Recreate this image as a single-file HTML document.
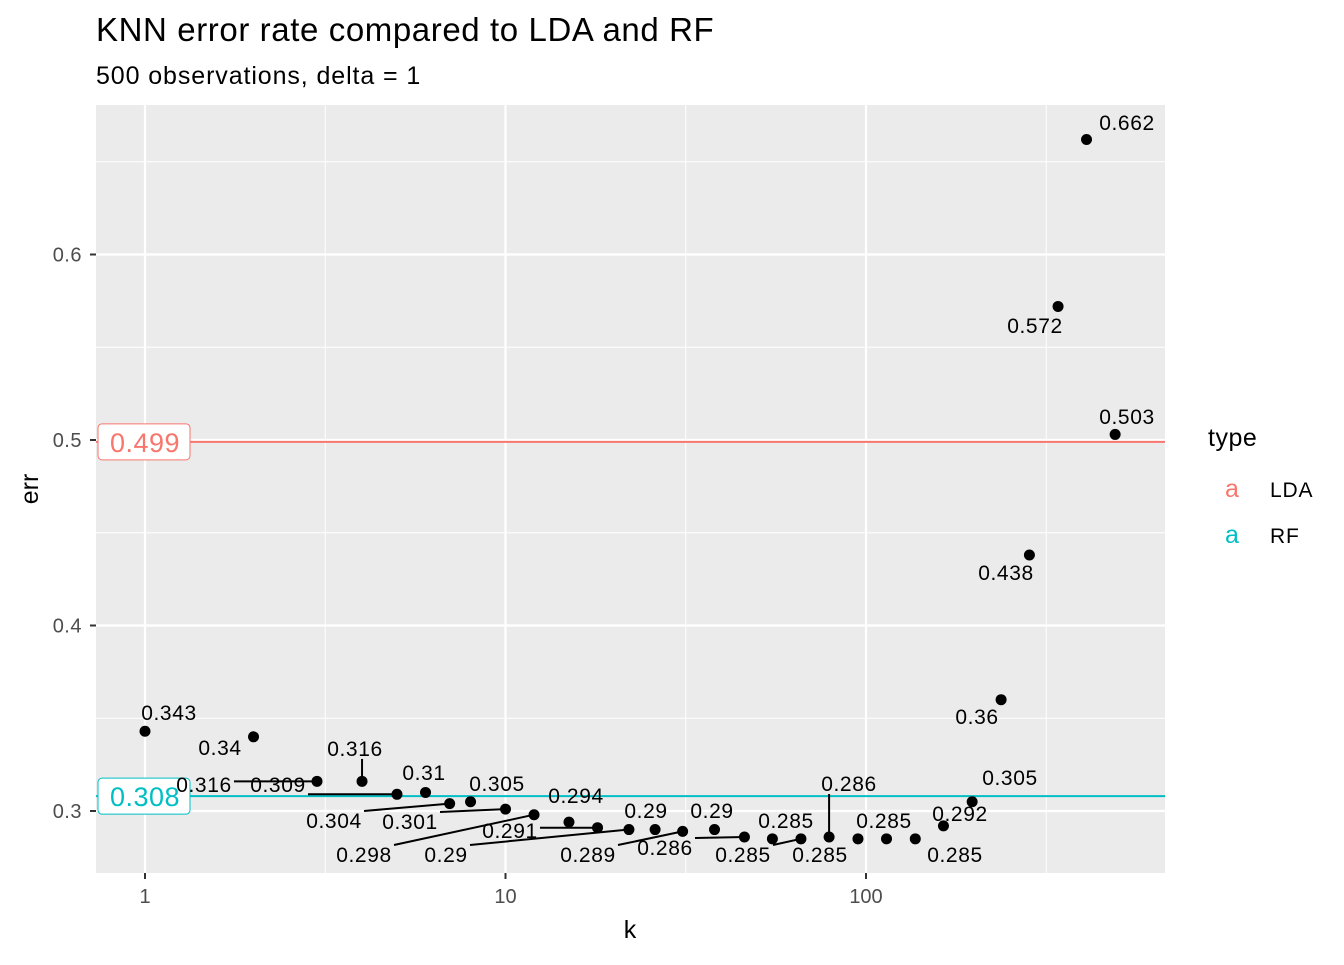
<!DOCTYPE html>
<html><head><meta charset="utf-8"><style>
body{margin:0;background:#fff;}
svg text{font-family:"Liberation Sans",sans-serif;}
</style></head><body>
<svg id="chart" width="1344" height="960">
<text x="96" y="41" font-size="33" letter-spacing="0.6">KNN error rate compared to LDA and RF</text>
<text x="96" y="84" font-size="25" letter-spacing="0.9">500 observations, delta = 1</text>
<rect x="96" y="105" width="1069" height="768" fill="#ebebeb"/>
<g id="grid"></g><g id="hlines"></g><g id="segs"></g><g id="pts"></g><g id="labels"></g><g id="axes"></g>
<text x="630" y="938" font-size="25" text-anchor="middle">k</text>
<text transform="translate(38,489) rotate(-90)" font-size="25" text-anchor="middle">err</text>
<g>
<text x="1208" y="446" font-size="25" letter-spacing="0.5">type</text>
<text x="1232" y="497" font-size="25" fill="#F8766D" text-anchor="middle">a</text>
<text x="1270" y="497" font-size="21" letter-spacing="0.8">LDA</text>
<text x="1232" y="543" font-size="25" fill="#00BFC4" text-anchor="middle">a</text>
<text x="1270" y="543" font-size="21" letter-spacing="0.8">RF</text>
</g>
</svg>
<script>
const kValues=[1,2,3,4,5,6,7,8,10,12,15,18,22,26,31,38,46,55,66,79,95,114,137,164,197,237,284,341,409,491];
const errValues=[0.343,0.34,0.316,0.316,0.309,0.31,0.304,0.305,0.301,0.298,0.294,0.291,0.29,0.29,0.289,0.29,0.286,0.285,0.285,0.286,0.285,0.285,0.285,0.292,0.305,0.36,0.438,0.572,0.662,0.503];
const refTypes=["LDA","RF"];
const refValues=[0.499,0.308];
const refColors=["#F8766D","#00BFC4"];
const yTicks=[0.3,0.4,0.5,0.6];
const yMinor=[0.35,0.45,0.55,0.65];
const xTicks=[1,10,100];
const xMinor=[3.162,31.62,316.2];
// label placement (layout only): text centre x, baseline y
const labelPos=[[169,720],[220,755],[204,792],[355,756],[278,792],[424,780],[334,828],[497,791],[410,829],[364,862],[576,803],[510,838],[446,862],[646,818],[588,862],[712,818],[665,855],[786,828],[743,862],[849,791],[820,862],[884,828],[955,862],[960,821],[1010,785],[977,724],[1006,580],[1035,333],[1127,130],[1127,424]];
const X=k=>145+360.5*Math.log10(k);
const Y=v=>811-(v-0.3)*1855;
const NS="http://www.w3.org/2000/svg";
function mk(p,t,a){const e=document.createElementNS(NS,t);for(const k in a)e.setAttribute(k,a[k]);document.getElementById(p).appendChild(e);return e;}
yMinor.forEach(v=>{const e=mk('grid','line',{x1:96,x2:1165,y1:Y(v),y2:Y(v),stroke:'#fff','stroke-width':1});

});
xMinor.forEach(v=>{const e=mk('grid','line',{x1:X(v),x2:X(v),y1:105,y2:873,stroke:'#fff','stroke-width':1});

});
yTicks.forEach(v=>{const e=mk('grid','line',{x1:96,x2:1165,y1:Y(v),y2:Y(v),stroke:'#fff','stroke-width':2.2});


const t=mk('axes','line',{x1:90,x2:96,y1:Y(v),y2:Y(v),stroke:'#333','stroke-width':2});


const l=mk('axes','text',{x:82,y:Y(v)+7,'font-size':20,'letter-spacing':0.5,fill:'#4d4d4d','text-anchor':'end'});l.textContent=String(v);

});
xTicks.forEach(v=>{const e=mk('grid','line',{x1:X(v),x2:X(v),y1:105,y2:873,stroke:'#fff','stroke-width':2.2});


const t=mk('axes','line',{x1:X(v),x2:X(v),y1:873,y2:879,stroke:'#333','stroke-width':2});


const l=mk('axes','text',{x:X(v),y:903,'font-size':20,fill:'#4d4d4d','text-anchor':'middle'});l.textContent=String(v);

});
refValues.forEach((v,i)=>{const e=mk('hlines','line',{x1:96,x2:1165,y1:Y(v),y2:Y(v),stroke:refColors[i],'stroke-width':2});


const r=mk('labels','rect',{x:98,y:Y(v)-18,width:92,height:36,rx:4,fill:'#fff',stroke:refColors[i],'stroke-width':1});


const t=mk('labels','text',{x:145,y:Y(v)+10,'font-size':27,'letter-spacing':0.5,fill:refColors[i],'text-anchor':'middle'});t.textContent=v.toFixed(3);

});
kValues.forEach((k,i)=>{const px=X(k),py=Y(errValues[i]);const [lx,ly]=labelPos[i];
const w=String(errValues[i]).length*12;const cy=ly-7;
let ex=Math.max(lx-w/2,Math.min(px,lx+w/2)),ey=Math.max(cy-10,Math.min(py,cy+10));
const d=Math.hypot(px-ex,py-ey);
if(d>18){const s=mk('segs','line',{x1:ex,y1:ey,x2:px,y2:py,stroke:'#000','stroke-width':2});

}
const c=mk('pts','circle',{cx:px,cy:py,r:5.5,fill:'#000'});


const t=mk('labels','text',{x:lx,y:ly,'font-size':21,'letter-spacing':0.6,'text-anchor':'middle'});t.textContent=String(errValues[i]);

});
</script>
</body></html>
